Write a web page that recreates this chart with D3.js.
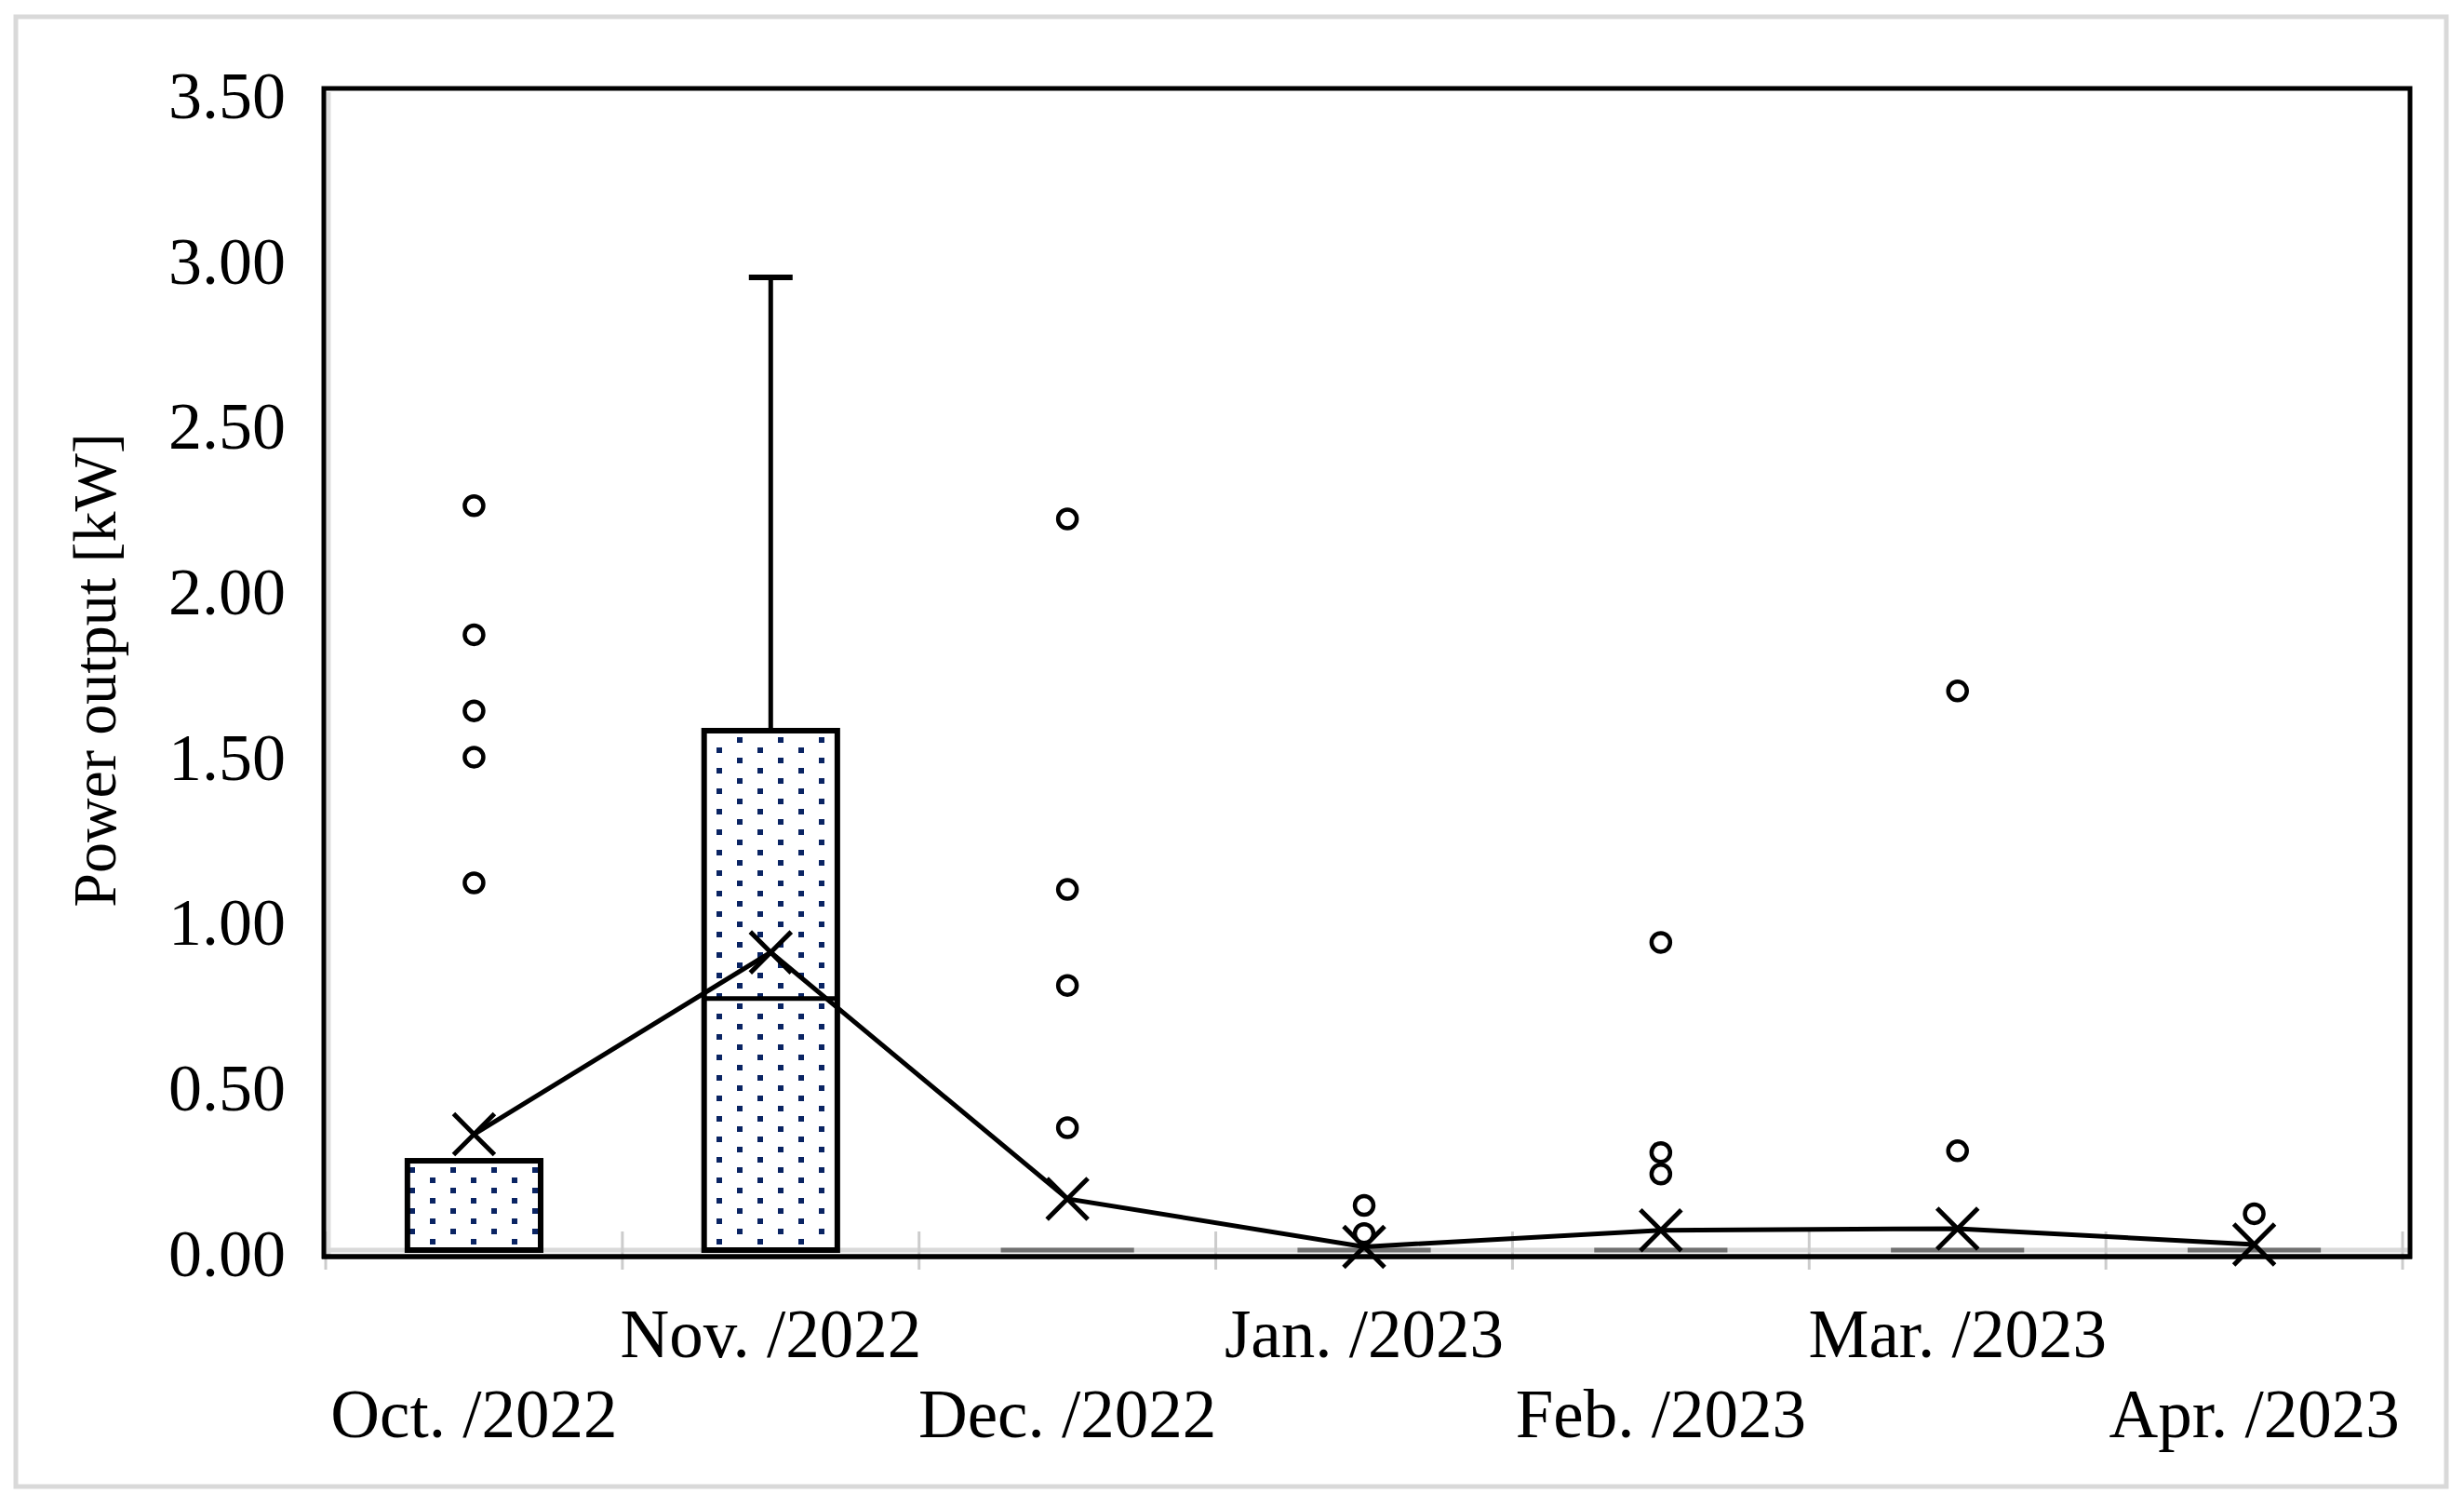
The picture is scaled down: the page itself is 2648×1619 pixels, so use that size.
<!DOCTYPE html>
<html>
<head>
<meta charset="utf-8">
<script src="https://cdn.jsdelivr.net/npm/d3@7"></script>
<style>
  html, body { margin: 0; padding: 0; background: #fff; }
  svg { display: block; }
  text { font-family: "Liberation Serif", "Times New Roman", serif; fill: #000; }
</style>
</head>
<body>
<svg id="chart" width="2648" height="1619"></svg>
<script>
// ---- data ----
const categories = ["Oct. /2022", "Nov. /2022", "Dec. /2022", "Jan. /2023", "Feb. /2023", "Mar. /2023", "Apr. /2023"];
const q1Values = [0, 0, 0, 0, 0, 0, 0];
const medianValues = [0, 0.76, 0, 0, 0, 0, 0];
const q3Values = [0.27, 1.57, 0, 0, 0, 0, 0];
const whiskerLowValues = [0, 0, 0, 0, 0, 0, 0];
const whiskerHighValues = [0.27, 2.94, 0, 0, 0, 0, 0];
const meanValues = [0.35, 0.90, 0.155, 0.01, 0.06, 0.065, 0.017];
const outlierValues = [
  [2.25, 1.86, 1.63, 1.49, 1.11],
  [],
  [2.21, 1.09, 0.80, 0.37],
  [0.135, 0.05],
  [0.93, 0.295, 0.23],
  [1.69, 0.30],
  [0.11]
];
const yTickValues = [0, 0.5, 1.0, 1.5, 2.0, 2.5, 3.0, 3.5];
const yAxisTitle = "Power output [kW]";

// ---- layout ----
const W = 2648, H = 1619;
const plotLeft = 348, plotRight = 2590, plotTop = 95, axisY = 1350;
const svg = d3.select("#chart");

const x = d3.scaleBand().domain(categories).range([350, 2582]).padding(0);
const y = d3.scaleLinear().domain([0, 3.5]).range([1343, 99]);
const boxW = x.bandwidth() * 0.449;
const capW = 47;

// pattern
const defs = svg.append("defs");
const pat = defs.append("pattern").attr("id", "dots")
  .attr("patternUnits", "userSpaceOnUse").attr("width", 44).attr("height", 22);
pat.append("rect").attr("width", 44).attr("height", 22).attr("fill", "#fff");
pat.append("rect").attr("x", 0).attr("y", 0).attr("width", 6).attr("height", 6).attr("fill", "#0a2463");
pat.append("rect").attr("x", 22).attr("y", 11).attr("width", 6).attr("height", 6).attr("fill", "#0a2463");

// background
svg.append("rect").attr("width", W).attr("height", H).attr("fill", "#fff");
// outer frame
svg.append("rect").attr("x", 17).attr("y", 18).attr("width", 2612).attr("height", 1579)
  .attr("fill", "none").attr("stroke", "#d9d9d9").attr("stroke-width", 5);

// inner grey lines (axis shadows)
svg.append("line").attr("x1", plotLeft + 5).attr("x2", plotLeft + 5)
  .attr("y1", plotTop + 4).attr("y2", axisY).attr("stroke", "#dedede").attr("stroke-width", 5);
svg.append("line").attr("x1", plotLeft).attr("x2", plotRight)
  .attr("y1", y(0)).attr("y2", y(0)).attr("stroke", "#d9d9d9").attr("stroke-width", 5);

// category boundary ticks
const bounds = categories.map(c => x(c)).concat([x.range()[1]]);
svg.append("g").selectAll("line").data(bounds).join("line")
  .attr("x1", d => d).attr("x2", d => d)
  .attr("y1", y(0) - 20).attr("y2", axisY + 14)
  .attr("stroke", "#cccccc").attr("stroke-width", 3);

// plot border
svg.append("rect").attr("x", plotLeft).attr("y", plotTop)
  .attr("width", plotRight - plotLeft).attr("height", axisY - plotTop)
  .attr("fill", "none").attr("stroke", "#000").attr("stroke-width", 5);

const idx = d3.range(categories.length);
const cx = i => x(categories[i]) + x.bandwidth() / 2;

// whiskers
const gW = svg.append("g");
idx.filter(i => whiskerHighValues[i] > q3Values[i]).forEach(i => {
  gW.append("line").attr("x1", cx(i)).attr("x2", cx(i))
    .attr("y1", y(q3Values[i])).attr("y2", y(whiskerHighValues[i]))
    .attr("stroke", "#000").attr("stroke-width", 5);
  gW.append("line").attr("x1", cx(i) - capW / 2).attr("x2", cx(i) + capW / 2)
    .attr("y1", y(whiskerHighValues[i])).attr("y2", y(whiskerHighValues[i]))
    .attr("stroke", "#000").attr("stroke-width", 6);
});
idx.filter(i => whiskerLowValues[i] < q1Values[i]).forEach(i => {
  gW.append("line").attr("x1", cx(i)).attr("x2", cx(i))
    .attr("y1", y(q1Values[i])).attr("y2", y(whiskerLowValues[i]))
    .attr("stroke", "#000").attr("stroke-width", 5);
});

// boxes
const gB = svg.append("g");
idx.forEach(i => {
  if (q3Values[i] > q1Values[i]) {
    gB.append("rect").attr("x", cx(i) - boxW / 2).attr("y", y(q3Values[i]))
      .attr("width", boxW).attr("height", y(q1Values[i]) - y(q3Values[i]))
      .attr("fill", "url(#dots)").attr("stroke", "#000").attr("stroke-width", 6);
    gB.append("line").attr("x1", cx(i) - boxW / 2).attr("x2", cx(i) + boxW / 2)
      .attr("y1", y(medianValues[i])).attr("y2", y(medianValues[i]))
      .attr("stroke", "#000").attr("stroke-width", 5);
  } else {
    gB.append("line").attr("x1", cx(i) - boxW / 2).attr("x2", cx(i) + boxW / 2)
      .attr("y1", y(q1Values[i])).attr("y2", y(q1Values[i]))
      .attr("stroke", "#707070").attr("stroke-width", 5);
  }
});

// mean line
const line = d3.line().x(i => cx(i)).y(i => y(meanValues[i]));
svg.append("path").datum(idx).attr("d", line)
  .attr("fill", "none").attr("stroke", "#000").attr("stroke-width", 5);

// mean markers (X)
const s = 22;
const gM = svg.append("g");
idx.forEach(i => {
  const px = cx(i), py = y(meanValues[i]);
  gM.append("path")
    .attr("d", `M${px - s},${py - s}L${px + s},${py + s}M${px - s},${py + s}L${px + s},${py - s}`)
    .attr("stroke", "#000").attr("stroke-width", 5).attr("fill", "none");
});

// outliers
const gO = svg.append("g");
idx.forEach(i => {
  gO.selectAll(null).data(outlierValues[i]).join("circle")
    .attr("cx", cx(i)).attr("cy", d => y(d)).attr("r", 10)
    .attr("fill", "#fff").attr("stroke", "#000").attr("stroke-width", 4.5);
});

// x axis line on top
svg.append("line").attr("x1", plotLeft - 2).attr("x2", plotRight + 2)
  .attr("y1", axisY).attr("y2", axisY).attr("stroke", "#000").attr("stroke-width", 5);

// y axis
const yAxis = svg.append("g").attr("transform", `translate(${plotLeft},0)`)
  .call(d3.axisLeft(y).tickValues(yTickValues).tickFormat(d3.format(".2f")).tickSize(0).tickPadding(41));
yAxis.select(".domain").remove();
yAxis.selectAll("text").attr("font-size", 72).attr("dy", "0.38em")
  .style("font-family", "'Liberation Serif', 'Times New Roman', serif");

// x axis
const xAxis = svg.append("g").attr("transform", `translate(0,${axisY})`)
  .call(d3.axisBottom(x).tickSize(0));
xAxis.select(".domain").remove();
xAxis.selectAll("text").attr("font-size", 73).attr("dy", 0)
  .attr("y", (d, i) => (i % 2 === 0 ? 194 : 108))
  .style("font-family", "'Liberation Serif', 'Times New Roman', serif");

// y axis title
svg.append("text").attr("transform", `translate(124,720) rotate(-90)`)
  .attr("text-anchor", "middle").attr("font-size", 66).text(yAxisTitle);
</script>
</body>
</html>
